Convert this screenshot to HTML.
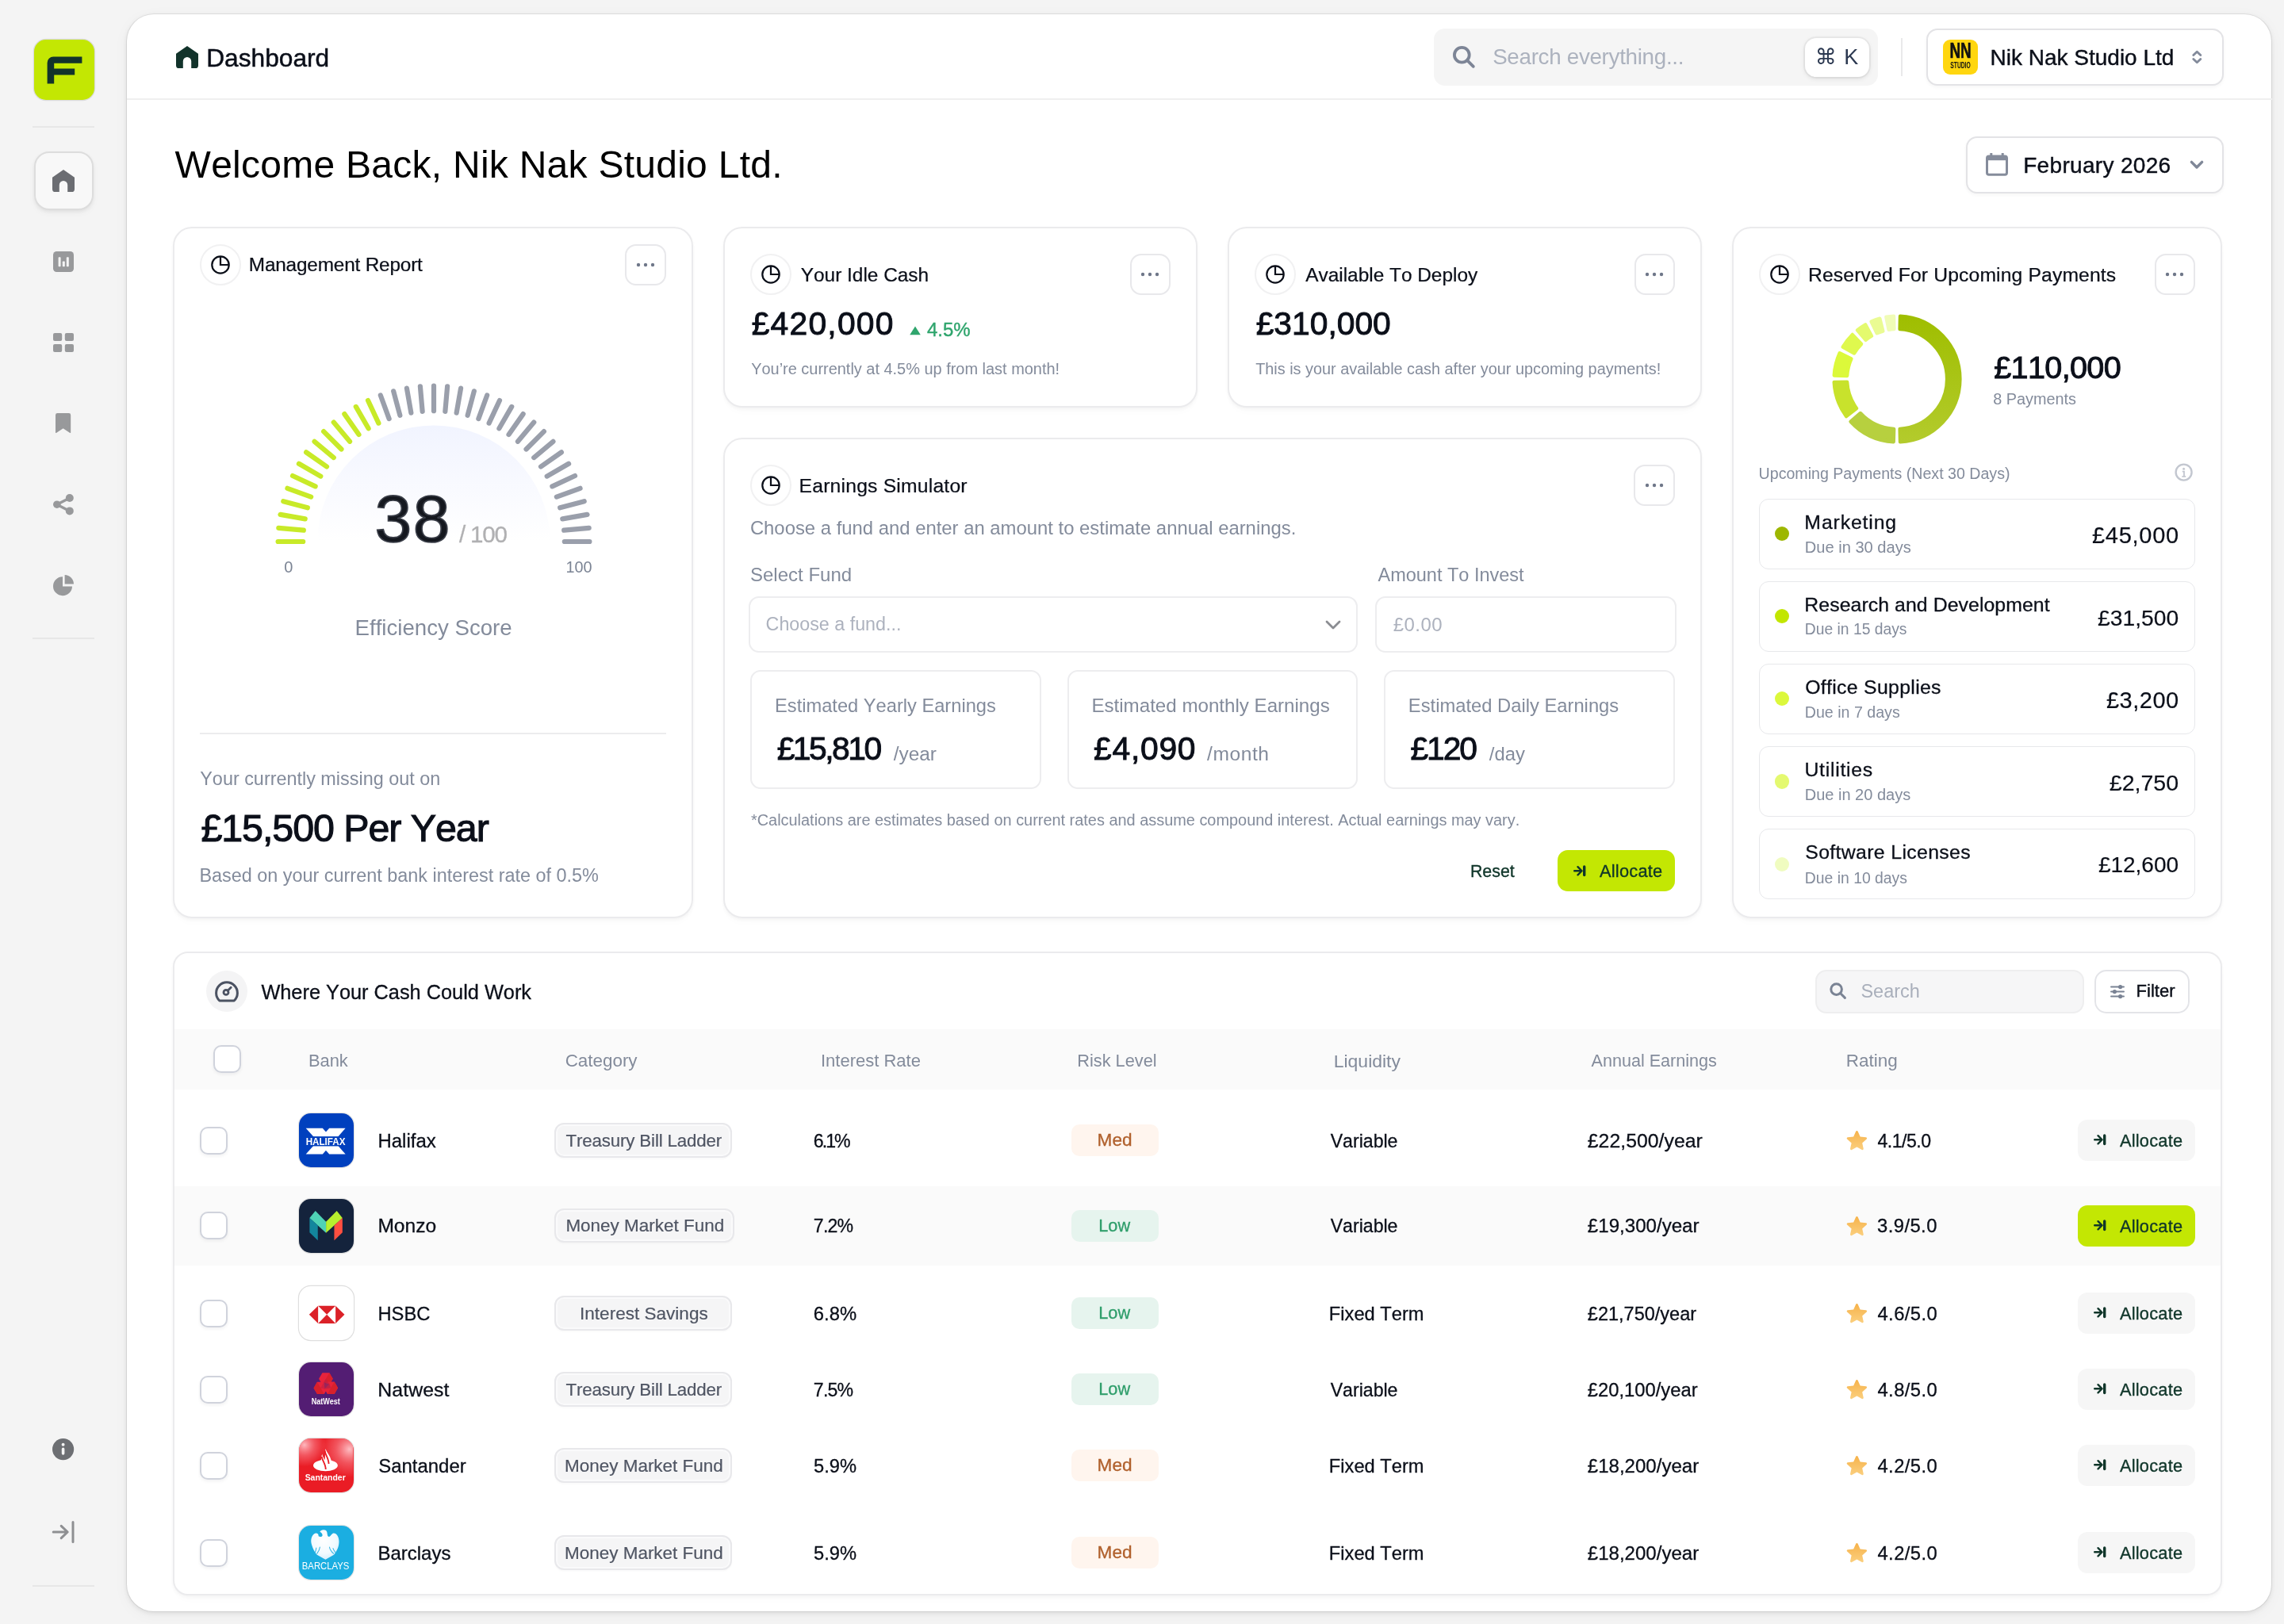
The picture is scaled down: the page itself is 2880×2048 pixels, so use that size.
<!DOCTYPE html>
<html lang="en"><head><meta charset="utf-8"><title>Dashboard</title>
<style>
html,body{margin:0;padding:0}
body{width:2880px;height:2048px;overflow:hidden;background:#f4f4f4;font-family:"Liberation Sans",sans-serif}
#p{position:absolute;left:0;top:0;width:1440px;height:1024px;zoom:2;will-change:transform;background:#f4f4f4;overflow:hidden}
@media (max-width:1600px){body{width:1440px;height:1024px}#p{zoom:1}}
.t{position:absolute;white-space:nowrap;margin:0;font-kerning:none}
svg{display:block;overflow:visible}
.card{background:#fff;border:1px solid #ebebed;border-radius:12px;box-shadow:0 1px 2px rgba(16,24,40,.035),0 4px 6px -2px rgba(16,24,40,.02)}
.ib{background:#fff;border:1px solid #ededef;border-radius:6.5px}
</style></head>
<body><div id="p">
<div style="position:absolute;left:21.25px;top:25.1px;width:38px;height:38px;box-sizing:border-box;background:#c3e703;border-radius:7.5px;box-shadow:0 0 0 .6px rgba(0,0,0,.10);"></div>
<svg style="position:absolute;left:20.75px;top:24.75px" width="39" height="39" viewBox="0 0 39 39"><path d="M8.8 27.8V14.6a3.8 3.8 0 0 1 3.8-3.8h18.1v4.1H13.1v3.3h13v4H13.1v5.6z" fill="#12332b"/></svg>
<div style="position:absolute;left:20.5px;top:79.5px;width:39px;height:1px;box-sizing:border-box;background:#e7e7e7;"></div>
<div style="position:absolute;left:20.5px;top:402.2px;width:39px;height:1px;box-sizing:border-box;background:#e7e7e7;"></div>
<div style="position:absolute;left:20.5px;top:999.5px;width:39px;height:1px;box-sizing:border-box;background:#e7e7e7;"></div>
<div style="position:absolute;left:21.5px;top:95.25px;width:37.25px;height:37.25px;box-sizing:border-box;background:#f8f8f8;border:1px solid #dddddd;border-radius:9.5px;box-shadow:0 1px 2px rgba(0,0,0,.06),0 2px 5px rgba(0,0,0,.03);"></div>
<svg style="position:absolute;left:33px;top:107px;" width="14" height="14" viewBox="0 0 14 14"><path d="M7 0L0 4.9v7.3A1.8 1.8 0 0 0 1.8 14h2.6V9.6a2.6 2.6 0 0 1 5.2 0V14h2.6a1.8 1.8 0 0 0 1.8-1.8V4.9z" fill="#6b6d72"/></svg>
<svg style="position:absolute;left:33.5px;top:158.4px;" width="13" height="13" viewBox="0 0 13 13"><rect width="13" height="13" rx="2.2" fill="#98999b"/><rect x="3.3" y="3.6" width="1.5" height="6" rx=".4" fill="#f4f4f4"/><rect x="5.9" y="6.2" width="1.5" height="3.4" rx=".4" fill="#f4f4f4"/><rect x="8.4" y="3.6" width="1.5" height="6" rx=".4" fill="#f4f4f4"/></svg>
<svg style="position:absolute;left:33.5px;top:209.9px;" width="13" height="12" viewBox="0 0 13 12"><g fill="#98999b"><rect width="5.6" height="5" rx="1"/><rect x="7.4" width="5.6" height="5" rx="1"/><rect y="7" width="5.6" height="5" rx="1"/><rect x="7.4" y="7" width="5.6" height="5" rx="1"/></g></svg>
<svg style="position:absolute;left:35.2px;top:260.5px;" width="9.6" height="12.6" viewBox="0 0 9.6 12.6"><path d="M0 1.2A1.2 1.2 0 0 1 1.2 0h7.2a1.2 1.2 0 0 1 1.2 1.2v10.9a.4.4 0 0 1-.63.33L4.8 9.6.63 12.43A.4.4 0 0 1 0 12.1z" fill="#98999b"/></svg>
<svg style="position:absolute;left:33.5px;top:311.5px;" width="13" height="13.2" viewBox="0 0 13 13.2"><g fill="#98999b"><circle cx="2.4" cy="6.6" r="2.4"/><circle cx="10.4" cy="2.5" r="2.5"/><circle cx="10.4" cy="10.7" r="2.5"/></g><path d="M10.4 2.5L2.4 6.6l8 4.1" fill="none" stroke="#98999b" stroke-width="1.7"/></svg>
<svg style="position:absolute;left:33.5px;top:362.3px;" width="13" height="13.2" viewBox="0 0 13 13.2"><path d="M6 1.1A6 6 0 1 0 12 7.2H6z" fill="#98999b"/><path d="M7.3 0a5.8 5.8 0 0 1 5.7 5.8H7.3z" fill="#98999b"/></svg>
<svg style="position:absolute;left:33.2px;top:907.2px;" width="13.6" height="13.6" viewBox="0 0 13.6 13.6"><circle cx="6.8" cy="6.8" r="6.8" fill="#6d6f73"/><circle cx="6.8" cy="3.9" r="1" fill="#f4f4f4"/><rect x="5.9" y="5.8" width="1.8" height="4.6" rx=".9" fill="#f4f4f4"/></svg>
<svg style="position:absolute;left:33px;top:959px;" width="14" height="14" viewBox="0 0 14 14"><path d="M.6 7h8.8M5.6 3.2L9.6 7l-4 3.8M13 .8v12.4" fill="none" stroke="#8e8f92" stroke-width="1.5" stroke-linecap="round" stroke-linejoin="round"/></svg>
<div style="position:absolute;left:80.15px;top:8.9px;width:1351.85px;height:1006.9px;box-sizing:border-box;background:#fff;border-radius:17px;box-shadow:0 0 0 .5px rgba(0,0,0,.07),0 1px 3px rgba(0,0,0,.09),0 2px 10px rgba(0,0,0,.04);"></div>
<div style="position:absolute;left:80px;top:62px;width:1352.25px;height:1px;box-sizing:border-box;background:#efefef;"></div>
<svg style="position:absolute;left:111px;top:28.9px;" width="14" height="14" viewBox="0 0 14 14"><path d="M7 0L0 4.9v7.3A1.8 1.8 0 0 0 1.8 14h2.6V9.6a2.6 2.6 0 0 1 5.2 0V14h2.6a1.8 1.8 0 0 0 1.8-1.8V4.9z" fill="#12332b"/></svg>
<div class="t" style="font-size:15.85px;line-height:22px;top:25.25px;color:#0b0f19;-webkit-text-stroke:0.25px #0b0f19;left:130.1px;">Dashboard</div>
<div style="position:absolute;left:904.1px;top:18.1px;width:279.9px;height:35.85px;box-sizing:border-box;background:#f5f5f5;border-radius:7px;"></div>
<svg style="position:absolute;left:916px;top:29px;" width="14" height="14" viewBox="0 0 14 14"><circle cx="5.65" cy="5.65" r="4.7" fill="none" stroke="#7d8596" stroke-width="1.9"/><path d="M9.3 9.3l3.600 3.600" stroke="#7d8596" stroke-width="1.9" stroke-linecap="round"/></svg>
<div class="t" style="font-size:13.87px;line-height:19px;top:26.65px;color:#acb2be;letter-spacing:-0.14px;left:941.07px;">Search everything...</div>
<div style="position:absolute;left:1137.75px;top:23.75px;width:40.5px;height:24.5px;box-sizing:border-box;background:#fff;border-radius:7px;box-shadow:0 0 0 1px rgba(0,0,0,.04),0 1px 3px rgba(0,0,0,.10);"></div>
<div class="t" style="left:1137.75px;top:23.75px;width:40.5px;height:24.5px;line-height:24.5px;text-align:center;font-size:13.5px;color:#2b3850;font-family:'Liberation Sans','DejaVu Sans',sans-serif;word-spacing:1px">&#8984; K</div>
<div style="position:absolute;left:1198.5px;top:24px;width:1px;height:24px;box-sizing:border-box;background:#e9e9ea;"></div>
<div style="position:absolute;left:1214.3px;top:18.15px;width:187.55px;height:35.7px;box-sizing:border-box;background:#fff;border:1px solid #e3e3e6;border-radius:7px;box-shadow:0 1px 2px rgba(0,0,0,.04);"></div>
<div style="position:absolute;left:1225px;top:24.9px;width:22px;height:22px;box-sizing:border-box;background:#ffd60f;border-radius:4.5px;"></div>
<div class="t" style="left:1225px;top:26px;width:22px;text-align:center;font-size:13.5px;line-height:12px;font-weight:700;color:#111;transform:scaleX(.7);letter-spacing:-.2px;-webkit-text-stroke:.3px #111">NN</div>
<div class="t" style="left:1225px;top:37.6px;width:22px;text-align:center;font-size:5.8px;line-height:7px;font-weight:700;color:#111;transform:scaleX(.58)">STUDIO</div>
<div class="t" style="font-size:14px;line-height:20px;top:26.5px;color:#0b0f19;-webkit-text-stroke:0.2px #0b0f19;left:1254.75px;">Nik Nak Studio Ltd</div>
<svg style="position:absolute;left:1381.85px;top:31.55px;" width="6.3" height="9" viewBox="0 0 7 10"><path d="M1 3.6L3.5 1.2 6 3.6M1 6.4l2.5 2.4L6 6.4" fill="none" stroke="#838b9b" stroke-width="1.6" stroke-linecap="round" stroke-linejoin="round"/></svg>
<div class="t" style="font-size:24px;line-height:34px;top:87.15px;color:#000;letter-spacing:0.13px;left:110.29px;">Welcome Back, Nik Nak Studio Ltd.</div>
<div style="position:absolute;left:1239.4px;top:86.1px;width:162.45px;height:35.75px;box-sizing:border-box;background:#fff;border:1px solid #e3e3e6;border-radius:7px;box-shadow:0 1px 2px rgba(0,0,0,.04);"></div>
<svg style="position:absolute;left:1251.9px;top:96.45px;" width="14" height="14.4" viewBox="0 0 14 14.4"><path d="M3.4 0v2M10.6 0v2" stroke="#858c9b" stroke-width="1.5"/><rect x=".75" y="2" width="12.5" height="11.6" rx="1.2" fill="none" stroke="#858c9b" stroke-width="1.5"/><rect x=".75" y="2" width="12.5" height="2.6" fill="#858c9b"/></svg>
<div class="t" style="font-size:14px;line-height:20px;top:94.3px;color:#0b0f19;letter-spacing:0.16px;-webkit-text-stroke:0.2px #0b0f19;left:1275.6px;">February 2026</div>
<svg style="position:absolute;left:1380.4px;top:101.15px;" width="9" height="6" viewBox="0 0 9 6"><path d="M1.2 1.2L4.5 4.5 7.8 1.2" fill="none" stroke="#7f8797" stroke-width="1.7" stroke-linecap="round" stroke-linejoin="round"/></svg>
<div class="card" style="position:absolute;left:109px;top:143px;width:328px;height:436px;box-sizing:border-box;"></div>
<div style="position:absolute;left:126px;top:154px;width:26px;height:26px;box-sizing:border-box;background:#fff;border:1px solid #f1f1f2;border-radius:50%;"></div>
<svg style="position:absolute;left:133px;top:161px;" width="12" height="12" viewBox="0 0 12 12"><circle cx="6" cy="6" r="5.35" fill="none" stroke="#0b0f19" stroke-width="1.12"/><path d="M6 .7V6h5.3" fill="none" stroke="#0b0f19" stroke-width="1.12"/></svg>
<div class="t" style="font-size:12.16px;line-height:17px;top:158.65px;color:#0b0f19;letter-spacing:-0.08px;-webkit-text-stroke:0.12px #0b0f19;left:156.9px;">Management Report</div>
<div style="position:absolute;left:394px;top:154px;width:26px;height:26px;box-sizing:border-box;background:#fff;border:1px solid #e8e8eb;border-radius:7px;"></div>
<svg style="position:absolute;left:401px;top:165.5px;" width="12" height="3" viewBox="0 0 12 3"><g fill="#6f7789"><circle cx="1.500" cy="1.500" r="1.100"/><circle cx="6" cy="1.500" r="1.100"/><circle cx="10.500" cy="1.500" r="1.100"/></g></svg>
<svg style="position:absolute;left:163.3px;top:231.25px" width="220" height="120" viewBox="-110 -110 220 120"><g stroke-width="3.1" stroke-linecap="round"><defs><linearGradient id="gsemi" x1="0" y1="0" x2="0" y2="1"><stop offset="0" stop-color="#f1f4ff"/><stop offset=".55" stop-color="#f9faff"/><stop offset="1" stop-color="#ffffff"/></linearGradient></defs><path d="M-73.3 0A73.3 73.3 0 0 1 73.3 0z" fill="url(#gsemi)"/><line x1="-82.40" y1="-0.00" x2="-98.20" y2="-0.00" stroke="#c8ea28"/><line x1="-82.09" y1="-7.18" x2="-97.83" y2="-8.56" stroke="#c8ea28"/><line x1="-81.15" y1="-14.31" x2="-96.71" y2="-17.05" stroke="#c8ea28"/><line x1="-79.59" y1="-21.33" x2="-94.85" y2="-25.42" stroke="#c8ea28"/><line x1="-77.43" y1="-28.18" x2="-92.28" y2="-33.59" stroke="#c8ea28"/><line x1="-74.68" y1="-34.82" x2="-89.00" y2="-41.50" stroke="#c8ea28"/><line x1="-71.36" y1="-41.20" x2="-85.04" y2="-49.10" stroke="#c8ea28"/><line x1="-67.50" y1="-47.26" x2="-80.44" y2="-56.33" stroke="#c8ea28"/><line x1="-63.12" y1="-52.97" x2="-75.23" y2="-63.12" stroke="#c8ea28"/><line x1="-58.27" y1="-58.27" x2="-69.44" y2="-69.44" stroke="#c8ea28"/><line x1="-52.97" y1="-63.12" x2="-63.12" y2="-75.23" stroke="#c8ea28"/><line x1="-47.26" y1="-67.50" x2="-56.33" y2="-80.44" stroke="#c8ea28"/><line x1="-41.20" y1="-71.36" x2="-49.10" y2="-85.04" stroke="#c8ea28"/><line x1="-34.82" y1="-74.68" x2="-41.50" y2="-89.00" stroke="#c8ea28"/><line x1="-28.18" y1="-77.43" x2="-33.59" y2="-92.28" stroke="#9a9fab"/><line x1="-21.33" y1="-79.59" x2="-25.42" y2="-94.85" stroke="#9a9fab"/><line x1="-14.31" y1="-81.15" x2="-17.05" y2="-96.71" stroke="#9a9fab"/><line x1="-7.18" y1="-82.09" x2="-8.56" y2="-97.83" stroke="#9a9fab"/><line x1="0.00" y1="-82.40" x2="0.00" y2="-98.20" stroke="#9a9fab"/><line x1="7.18" y1="-82.09" x2="8.56" y2="-97.83" stroke="#9a9fab"/><line x1="14.31" y1="-81.15" x2="17.05" y2="-96.71" stroke="#9a9fab"/><line x1="21.33" y1="-79.59" x2="25.42" y2="-94.85" stroke="#9a9fab"/><line x1="28.18" y1="-77.43" x2="33.59" y2="-92.28" stroke="#9a9fab"/><line x1="34.82" y1="-74.68" x2="41.50" y2="-89.00" stroke="#9a9fab"/><line x1="41.20" y1="-71.36" x2="49.10" y2="-85.04" stroke="#9a9fab"/><line x1="47.26" y1="-67.50" x2="56.33" y2="-80.44" stroke="#9a9fab"/><line x1="52.97" y1="-63.12" x2="63.12" y2="-75.23" stroke="#9a9fab"/><line x1="58.27" y1="-58.27" x2="69.44" y2="-69.44" stroke="#9a9fab"/><line x1="63.12" y1="-52.97" x2="75.23" y2="-63.12" stroke="#9a9fab"/><line x1="67.50" y1="-47.26" x2="80.44" y2="-56.33" stroke="#9a9fab"/><line x1="71.36" y1="-41.20" x2="85.04" y2="-49.10" stroke="#9a9fab"/><line x1="74.68" y1="-34.82" x2="89.00" y2="-41.50" stroke="#9a9fab"/><line x1="77.43" y1="-28.18" x2="92.28" y2="-33.59" stroke="#9a9fab"/><line x1="79.59" y1="-21.33" x2="94.85" y2="-25.42" stroke="#9a9fab"/><line x1="81.15" y1="-14.31" x2="96.71" y2="-17.05" stroke="#9a9fab"/><line x1="82.09" y1="-7.18" x2="97.83" y2="-8.56" stroke="#9a9fab"/><line x1="82.40" y1="-0.00" x2="98.20" y2="-0.00" stroke="#9a9fab"/></g></svg>
<div class="t" style="font-size:42px;line-height:59px;top:297.65px;color:#15181f;letter-spacing:0.76px;-webkit-text-stroke:0.85px #15181f;left:236.25px;-webkit-text-stroke-color:#3a3e48;">38</div>
<div class="t" style="font-size:14.8px;line-height:21px;top:326.3px;color:#b0b0b2;letter-spacing:-0.61px;-webkit-text-stroke:0.15px #b0b0b2;left:289.5px;">/ 100</div>
<div class="t" style="font-size:10px;line-height:14px;top:350.25px;color:#7b8494;left:-118.05px;width:600px;text-align:center;">0</div>
<div class="t" style="font-size:9.91px;line-height:14px;top:350.25px;color:#7b8494;right:1066.71px;">100</div>
<div class="t" style="font-size:13.82px;line-height:19px;top:386.65px;color:#838b9b;left:-26.7px;width:600px;text-align:center;">Efficiency Score</div>
<div style="position:absolute;left:126px;top:462px;width:294px;height:1px;box-sizing:border-box;background:#ececee;"></div>
<div class="t" style="font-size:11.7px;line-height:16px;top:483px;color:#838b9b;left:126.14px;">Your currently missing out on</div>
<div class="t" style="font-size:24.2px;line-height:34px;top:504.75px;color:#0b0f19;letter-spacing:-0.53px;-webkit-text-stroke:0.55px #0b0f19;left:126.71px;">£15,500 Per Year</div>
<div class="t" style="font-size:11.71px;line-height:16px;top:544px;color:#838b9b;left:125.69px;">Based on your current bank interest rate of 0.5%</div>
<div class="card" style="position:absolute;left:456px;top:143px;width:299px;height:114px;box-sizing:border-box;"></div>
<div style="position:absolute;left:472.85px;top:160px;width:26px;height:26px;box-sizing:border-box;background:#fff;border:1px solid #f1f1f2;border-radius:50%;"></div>
<svg style="position:absolute;left:479.85px;top:167px;" width="12" height="12" viewBox="0 0 12 12"><circle cx="6" cy="6" r="5.35" fill="none" stroke="#0b0f19" stroke-width="1.12"/><path d="M6 .7V6h5.3" fill="none" stroke="#0b0f19" stroke-width="1.12"/></svg>
<div class="t" style="font-size:12.2px;line-height:17px;top:164.75px;color:#0b0f19;-webkit-text-stroke:0.12px #0b0f19;left:504.88px;">Your Idle Cash</div>
<div style="position:absolute;left:712.25px;top:160px;width:25.5px;height:25.75px;box-sizing:border-box;background:#fff;border:1px solid #e8e8eb;border-radius:7px;"></div>
<svg style="position:absolute;left:719px;top:171.38px;" width="12" height="3" viewBox="0 0 12 3"><g fill="#6f7789"><circle cx="1.500" cy="1.500" r="1.100"/><circle cx="6" cy="1.500" r="1.100"/><circle cx="10.500" cy="1.500" r="1.100"/></g></svg>
<div class="t" style="font-size:20.4px;line-height:29px;top:189.65px;color:#0b0f19;letter-spacing:0.62px;-webkit-text-stroke:0.48px #0b0f19;left:473.82px;">£420,000</div>
<svg style="position:absolute;left:573.5px;top:205.4px;" width="7" height="5.6" viewBox="0 0 7 5.6"><path d="M3.500 .2L6.900 5.600H.1z" fill="#2fa56d"/></svg>
<div class="t" style="font-size:11.98px;line-height:17px;top:199.25px;color:#2fa56d;-webkit-text-stroke:0.2px #2fa56d;left:584.53px;">4.5%</div>
<div class="t" style="font-size:9.97px;line-height:14px;top:225.65px;color:#838b9b;left:473.58px;">You’re currently at 4.5% up from last month!</div>
<div class="card" style="position:absolute;left:774px;top:143px;width:299px;height:114px;box-sizing:border-box;"></div>
<div style="position:absolute;left:790.85px;top:160px;width:26px;height:26px;box-sizing:border-box;background:#fff;border:1px solid #f1f1f2;border-radius:50%;"></div>
<svg style="position:absolute;left:797.85px;top:167px;" width="12" height="12" viewBox="0 0 12 12"><circle cx="6" cy="6" r="5.35" fill="none" stroke="#0b0f19" stroke-width="1.12"/><path d="M6 .7V6h5.3" fill="none" stroke="#0b0f19" stroke-width="1.12"/></svg>
<div class="t" style="font-size:12.2px;line-height:17px;top:164.75px;color:#0b0f19;-webkit-text-stroke:0.12px #0b0f19;left:823.13px;">Available To Deploy</div>
<div style="position:absolute;left:1030.25px;top:160px;width:25.5px;height:25.75px;box-sizing:border-box;background:#fff;border:1px solid #e8e8eb;border-radius:7px;"></div>
<svg style="position:absolute;left:1037px;top:171.38px;" width="12" height="3" viewBox="0 0 12 3"><g fill="#6f7789"><circle cx="1.500" cy="1.500" r="1.100"/><circle cx="6" cy="1.500" r="1.100"/><circle cx="10.500" cy="1.500" r="1.100"/></g></svg>
<div class="t" style="font-size:20.4px;line-height:29px;top:189.65px;color:#0b0f19;letter-spacing:0px;-webkit-text-stroke:0.48px #0b0f19;left:791.82px;">£310,000</div>
<div class="t" style="font-size:9.94px;line-height:14px;top:225.65px;color:#838b9b;left:791.58px;">This is your available cash after your upcoming payments!</div>
<div class="card" style="position:absolute;left:456px;top:276px;width:617px;height:303px;box-sizing:border-box;"></div>
<div style="position:absolute;left:472.8px;top:292.9px;width:26px;height:26px;box-sizing:border-box;background:#fff;border:1px solid #f1f1f2;border-radius:50%;"></div>
<svg style="position:absolute;left:479.8px;top:299.9px;" width="12" height="12" viewBox="0 0 12 12"><circle cx="6" cy="6" r="5.35" fill="none" stroke="#0b0f19" stroke-width="1.12"/><path d="M6 .7V6h5.3" fill="none" stroke="#0b0f19" stroke-width="1.12"/></svg>
<div class="t" style="font-size:12.35px;line-height:17px;top:297.75px;color:#0b0f19;letter-spacing:0.1px;-webkit-text-stroke:0.12px #0b0f19;left:503.79px;">Earnings Simulator</div>
<div style="position:absolute;left:1030px;top:293.1px;width:25.9px;height:25.8px;box-sizing:border-box;background:#fff;border:1px solid #e8e8eb;border-radius:7px;"></div>
<svg style="position:absolute;left:1036.95px;top:304.5px;" width="12" height="3" viewBox="0 0 12 3"><g fill="#6f7789"><circle cx="1.500" cy="1.500" r="1.100"/><circle cx="6" cy="1.500" r="1.100"/><circle cx="10.500" cy="1.500" r="1.100"/></g></svg>
<div class="t" style="font-size:11.93px;line-height:17px;top:324.65px;color:#838b9b;left:472.94px;">Choose a fund and enter an amount to estimate annual earnings.</div>
<div class="t" style="font-size:12px;line-height:17px;top:354.15px;color:#838b9b;left:473.01px;">Select Fund</div>
<div class="t" style="font-size:11.75px;line-height:16px;top:354.65px;color:#838b9b;left:868.73px;">Amount To Invest</div>
<div class="ib" style="position:absolute;left:472.15px;top:375.9px;width:383.85px;height:35.7px;box-sizing:border-box;"></div>
<div class="t" style="font-size:11.64px;line-height:16px;top:385.65px;color:#adb2be;left:482.81px;">Choose a fund...</div>
<svg style="position:absolute;left:835.25px;top:390.75px;" width="10" height="6" viewBox="0 0 10 6"><path d="M1 1l4 4 4-4" fill="none" stroke="#8b8d92" stroke-width="1.4" stroke-linecap="round" stroke-linejoin="round"/></svg>
<div class="ib" style="position:absolute;left:867.15px;top:375.9px;width:189.85px;height:35.7px;box-sizing:border-box;"></div>
<div class="t" style="font-size:12px;line-height:17px;top:385.25px;color:#adb2be;letter-spacing:0.24px;left:878.36px;">£0.00</div>
<div class="ib" style="position:absolute;left:473.1px;top:422.5px;width:183.45px;height:75.1px;box-sizing:border-box;"></div>
<div class="t" style="font-size:11.83px;line-height:17px;top:436.6px;color:#838b9b;left:488.53px;">Estimated Yearly Earnings</div>
<div class="t" style="font-size:20.4px;line-height:29px;top:457.4px;color:#0b0f19;letter-spacing:-1.25px;-webkit-text-stroke:0.48px #0b0f19;left:489.82px;">£15,810</div>
<div class="t" style="font-size:12.19px;line-height:17px;top:466.75px;color:#838b9b;left:563.4px;">/year</div>
<div class="ib" style="position:absolute;left:672.8px;top:422.5px;width:183.45px;height:75.1px;box-sizing:border-box;"></div>
<div class="t" style="font-size:12.07px;line-height:17px;top:436.6px;color:#838b9b;left:688.21px;">Estimated monthly Earnings</div>
<div class="t" style="font-size:20.4px;line-height:29px;top:457.4px;color:#0b0f19;letter-spacing:0.37px;-webkit-text-stroke:0.48px #0b0f19;left:689.52px;">£4,090</div>
<div class="t" style="font-size:12.3px;line-height:17px;top:466.75px;color:#838b9b;letter-spacing:0.27px;left:761.05px;">/month</div>
<div class="ib" style="position:absolute;left:872.5px;top:422.5px;width:183.45px;height:75.1px;box-sizing:border-box;"></div>
<div class="t" style="font-size:11.88px;line-height:17px;top:436.6px;color:#838b9b;left:887.93px;">Estimated Daily Earnings</div>
<div class="t" style="font-size:20.4px;line-height:29px;top:457.4px;color:#0b0f19;letter-spacing:-1.04px;-webkit-text-stroke:0.48px #0b0f19;left:889.22px;">£120</div>
<div class="t" style="font-size:11.92px;line-height:17px;top:466.75px;color:#838b9b;left:938.9px;">/day</div>
<div class="t" style="font-size:9.96px;line-height:14px;top:509.75px;color:#838b9b;left:473.49px;">*Calculations are estimates based on current rates and assume compound interest. Actual earnings may vary.</div>
<div class="t" style="font-size:10.69px;line-height:15px;top:541.75px;color:#10362a;-webkit-text-stroke:0.17px #10362a;left:926.97px;">Reset</div>
<div style="position:absolute;left:982px;top:536px;width:74px;height:26px;box-sizing:border-box;background:#c3e703;border-radius:6.5px;"></div>
<svg style="position:absolute;left:992px;top:545.4px;" width="8" height="7.2" viewBox="0 0 8 7.2"><g fill="none" stroke="#10362a" stroke-linecap="round" stroke-linejoin="round"><path d="M.6 3.630h4.600M2.750 1.100l2.550 2.530-2.550 2.530" stroke-width="1.2"/><path d="M6.850 .950v5.300" stroke-width="1.700"/></g></svg>
<div class="t" style="font-size:10.9px;line-height:15px;top:541.95px;color:#10362a;letter-spacing:0.11px;-webkit-text-stroke:0.17px #10362a;left:1008.53px;">Allocate</div>
<div class="card" style="position:absolute;left:1092px;top:143px;width:309px;height:436px;box-sizing:border-box;"></div>
<div style="position:absolute;left:1108.85px;top:160px;width:26px;height:26px;box-sizing:border-box;background:#fff;border:1px solid #f1f1f2;border-radius:50%;"></div>
<svg style="position:absolute;left:1115.85px;top:167px;" width="12" height="12" viewBox="0 0 12 12"><circle cx="6" cy="6" r="5.35" fill="none" stroke="#0b0f19" stroke-width="1.12"/><path d="M6 .7V6h5.3" fill="none" stroke="#0b0f19" stroke-width="1.12"/></svg>
<div class="t" style="font-size:12.35px;line-height:17px;top:164.75px;color:#0b0f19;letter-spacing:0.07px;-webkit-text-stroke:0.12px #0b0f19;left:1139.99px;">Reserved For Upcoming Payments</div>
<div style="position:absolute;left:1358.25px;top:160px;width:25.7px;height:25.75px;box-sizing:border-box;background:#fff;border:1px solid #e8e8eb;border-radius:7px;"></div>
<svg style="position:absolute;left:1365.1px;top:171.38px;" width="12" height="3" viewBox="0 0 12 3"><g fill="#6f7789"><circle cx="1.500" cy="1.500" r="1.100"/><circle cx="6" cy="1.500" r="1.100"/><circle cx="10.500" cy="1.500" r="1.100"/></g></svg>
<svg style="position:absolute;left:1151px;top:194px" width="90" height="90" viewBox="-45 -45 90 90"><g stroke-width="2.2" stroke-linejoin="round"><defs><linearGradient id="dg1" x1="0" y1="0" x2="0" y2="1"><stop offset="0" stop-color="#9fbe00"/><stop offset="1" stop-color="#b3cb2c"/></linearGradient></defs><path d="M2.00 -39.65A39.70 39.70 0 0 1 2.00 39.65L1.81 31.45A31.50 31.50 0 0 0 1.81 -31.45z" fill="url(#dg1)" stroke="url(#dg1)"/><path d="M-2.14 39.64A39.70 39.70 0 0 1 -29.23 26.87L-23.04 21.48A31.50 31.50 0 0 0 -1.92 31.44z" fill="#b7d03f" stroke="#b7d03f"/><path d="M-31.95 23.57A39.70 39.70 0 0 1 -39.65 2.00L-31.45 1.81A31.50 31.50 0 0 0 -25.48 18.51z" fill="#c8e22c" stroke="#c8e22c"/><path d="M-39.63 -2.28A39.70 39.70 0 0 1 -36.15 -16.41L-28.78 -12.81A31.50 31.50 0 0 0 -31.43 -2.03z" fill="#dcf93a" stroke="#dcf93a"/><path d="M-34.18 -20.20A39.70 39.70 0 0 1 -28.11 -28.03L-22.47 -22.08A31.50 31.50 0 0 0 -27.00 -16.22z" fill="#dff94e" stroke="#dff94e"/><path d="M-25.04 -30.80A39.70 39.70 0 0 1 -19.90 -34.35L-15.99 -27.14A31.50 31.50 0 0 0 -19.69 -24.58z" fill="#e4fa6e" stroke="#e4fa6e"/><path d="M-16.22 -36.24A39.70 39.70 0 0 1 -10.87 -38.18L-8.84 -30.23A31.50 31.50 0 0 0 -12.66 -28.84z" fill="#eafb93" stroke="#eafb93"/><path d="M-6.83 -39.11A39.70 39.70 0 0 1 -2.00 -39.65L-1.81 -31.45A31.50 31.50 0 0 0 -5.20 -31.07z" fill="#f0fcb6" stroke="#f0fcb6"/></g></svg>
<div class="t" style="font-size:19.8px;line-height:28px;top:217.5px;color:#0b0f19;letter-spacing:-0.33px;-webkit-text-stroke:0.48px #0b0f19;left:1257.14px;">£110,000</div>
<div class="t" style="font-size:9.92px;line-height:14px;top:244.4px;color:#838b9b;left:1256.67px;">8 Payments</div>
<div class="t" style="font-size:9.8px;line-height:14px;top:291.25px;color:#838b9b;left:1108.79px;">Upcoming Payments (Next 30 Days)</div>
<svg style="position:absolute;left:1371.1px;top:292.05px;" width="11.6" height="11.6" viewBox="0 0 11.6 11.6"><circle cx="5.8" cy="5.8" r="5" fill="none" stroke="#c3c7d0" stroke-width="1.2"/><circle cx="5.8" cy="3.6" r=".75" fill="#c3c7d0"/><path d="M4.9 5.3h1.1v3M4.7 8.4h2.4" fill="none" stroke="#c3c7d0" stroke-width=".9"/></svg>
<div style="position:absolute;left:1109.05px;top:314.5px;width:274.95px;height:44.45px;box-sizing:border-box;background:#fff;border:.5px solid #e7e8eb;border-radius:6px;"></div>
<div style="position:absolute;left:1118.95px;top:332.15px;width:9.05px;height:9.05px;box-sizing:border-box;background:#9db700;border-radius:50%;"></div>
<div class="t" style="font-size:12.4px;line-height:17px;top:320.9px;color:#0b0f19;letter-spacing:0.43px;-webkit-text-stroke:0.15px #0b0f19;left:1137.68px;">Marketing</div>
<div class="t" style="font-size:10.05px;line-height:14px;top:338.15px;color:#838b9b;left:1137.88px;">Due in 30 days</div>
<div class="t" style="font-size:14.5px;line-height:20px;top:327.5px;color:#0b0f19;letter-spacing:0.36px;-webkit-text-stroke:0.1px #0b0f19;right:66.07px;">£45,000</div>
<div style="position:absolute;left:1109.05px;top:366.52px;width:274.95px;height:44.45px;box-sizing:border-box;background:#fff;border:.5px solid #e7e8eb;border-radius:6px;"></div>
<div style="position:absolute;left:1118.95px;top:384.17px;width:9.05px;height:9.05px;box-sizing:border-box;background:#c2e600;border-radius:50%;"></div>
<div class="t" style="font-size:12.4px;line-height:17px;top:372.92px;color:#0b0f19;letter-spacing:0.04px;-webkit-text-stroke:0.15px #0b0f19;left:1137.68px;">Research and Development</div>
<div class="t" style="font-size:9.65px;line-height:14px;top:390.17px;color:#838b9b;left:1137.91px;">Due in 15 days</div>
<div class="t" style="font-size:14.11px;line-height:20px;top:379.52px;color:#0b0f19;-webkit-text-stroke:0.1px #0b0f19;right:66.45px;">£31,500</div>
<div style="position:absolute;left:1109.05px;top:418.55px;width:274.95px;height:44.45px;box-sizing:border-box;background:#fff;border:.5px solid #e7e8eb;border-radius:6px;"></div>
<div style="position:absolute;left:1118.95px;top:436.2px;width:9.05px;height:9.05px;box-sizing:border-box;background:#dcf83c;border-radius:50%;"></div>
<div class="t" style="font-size:12.4px;line-height:17px;top:424.95px;color:#0b0f19;letter-spacing:0.16px;-webkit-text-stroke:0.15px #0b0f19;left:1138.11px;">Office Supplies</div>
<div class="t" style="font-size:9.81px;line-height:14px;top:442.2px;color:#838b9b;left:1137.9px;">Due in 7 days</div>
<div class="t" style="font-size:14.5px;line-height:20px;top:431.55px;color:#0b0f19;letter-spacing:0.24px;-webkit-text-stroke:0.1px #0b0f19;right:66.2px;">£3,200</div>
<div style="position:absolute;left:1109.05px;top:470.57px;width:274.95px;height:44.45px;box-sizing:border-box;background:#fff;border:.5px solid #e7e8eb;border-radius:6px;"></div>
<div style="position:absolute;left:1118.95px;top:488.22px;width:9.05px;height:9.05px;box-sizing:border-box;background:#e4f970;border-radius:50%;"></div>
<div class="t" style="font-size:12.4px;line-height:17px;top:476.97px;color:#0b0f19;letter-spacing:0.36px;-webkit-text-stroke:0.15px #0b0f19;left:1137.74px;">Utilities</div>
<div class="t" style="font-size:10px;line-height:14px;top:494.22px;color:#838b9b;left:1137.88px;">Due in 20 days</div>
<div class="t" style="font-size:14.28px;line-height:20px;top:483.57px;color:#0b0f19;-webkit-text-stroke:0.1px #0b0f19;right:66.45px;">£2,750</div>
<div style="position:absolute;left:1109.05px;top:522.6px;width:274.95px;height:44.45px;box-sizing:border-box;background:#fff;border:.5px solid #e7e8eb;border-radius:6px;"></div>
<div style="position:absolute;left:1118.95px;top:540.25px;width:9.05px;height:9.05px;box-sizing:border-box;background:#f0fcc0;border-radius:50%;"></div>
<div class="t" style="font-size:12.4px;line-height:17px;top:529px;color:#0b0f19;letter-spacing:0.18px;-webkit-text-stroke:0.15px #0b0f19;left:1138.14px;">Software Licenses</div>
<div class="t" style="font-size:9.69px;line-height:14px;top:546.25px;color:#838b9b;left:1137.91px;">Due in 10 days</div>
<div class="t" style="font-size:14px;line-height:20px;top:535.6px;color:#0b0f19;-webkit-text-stroke:0.1px #0b0f19;right:66.46px;">£12,600</div>
<div class="card" style="position:absolute;left:109.15px;top:600.1px;width:1291.85px;height:405.9px;box-sizing:border-box;overflow:hidden;border-radius:9.5px;"><div style="position:absolute;left:0;right:0;top:47.900px;height:37.850px;background:#fafafa"></div><div style="position:absolute;left:0;right:0;top:146.750px;height:50px;background:#fafafa"></div></div>
<div style="position:absolute;left:130px;top:612px;width:26px;height:26px;box-sizing:border-box;background:#f4f4f5;border-radius:50%;"></div>
<svg style="position:absolute;left:135.5px;top:618px;" width="15" height="13.8" viewBox="0 0 15 13.8"><path d="M3.200 13H2.900A6.700 6.700 0 1 1 12.100 13H3.200z" fill="none" stroke="#4b5262" stroke-width="1.500" stroke-linejoin="round"/><circle cx="7" cy="7.700" r="1.500" fill="none" stroke="#4b5262" stroke-width="1.400"/><path d="M8.100 6.600l2-2" stroke="#4b5262" stroke-width="1.400" stroke-linecap="round"/></svg>
<div class="t" style="font-size:12.67px;line-height:18px;top:616.5px;color:#0b0f19;-webkit-text-stroke:0.15px #0b0f19;left:164.69px;">Where Your Cash Could Work</div>
<div style="position:absolute;left:1144.25px;top:611.25px;width:169.5px;height:27.5px;box-sizing:border-box;background:#f6f6f7;border:1px solid #eeeeef;border-radius:7px;"></div>
<svg style="position:absolute;left:1153.7px;top:619.6px;" width="10.4" height="10.4" viewBox="0 0 10.4 10.4"><circle cx="4.300" cy="4.300" r="3.400" fill="none" stroke="#7a8394" stroke-width="1.500"/><path d="M6.900 6.900l2.800 2.800" stroke="#7a8394" stroke-width="1.500" stroke-linecap="round"/></svg>
<div class="t" style="font-size:11.74px;line-height:16px;top:617px;color:#a9afbb;left:1173.22px;">Search</div>
<div style="position:absolute;left:1320.35px;top:611.25px;width:60.3px;height:27.5px;box-sizing:border-box;background:#fff;border:1px solid #e3e4e8;border-radius:7.500px;"></div>
<svg style="position:absolute;left:1330.6px;top:620.9px;" width="9" height="8.6" viewBox="0 0 9 8.6"><g stroke="#7a8394" stroke-width="1" stroke-linecap="round"><path d="M.5 1.300h8M.5 4.300h8M.5 7.300h8"/></g><g fill="#7a8394"><circle cx="6.300" cy="1.300" r="1.300"/><circle cx="2.700" cy="4.300" r="1.300"/><circle cx="6.300" cy="7.300" r="1.300"/></g></svg>
<div class="t" style="font-size:11.02px;line-height:15px;top:617.65px;color:#0b0f19;-webkit-text-stroke:0.2px #0b0f19;left:1346.8px;">Filter</div>
<div style="position:absolute;left:134.25px;top:659.05px;width:17.5px;height:17.5px;box-sizing:border-box;background:#fff;border:1px solid #d0d3dc;border-radius:5px;box-shadow:0 1px 2px rgba(16,24,40,.06);"></div>
<div class="t" style="font-size:10.94px;line-height:15px;top:661.3px;color:#838b9b;left:194.45px;">Bank</div>
<div class="t" style="font-size:11.21px;line-height:16px;top:660.8px;color:#838b9b;left:356.33px;">Category</div>
<div class="t" style="font-size:11px;line-height:15px;top:661.3px;color:#838b9b;left:517.48px;">Interest Rate</div>
<div class="t" style="font-size:10.87px;line-height:15px;top:661.3px;color:#838b9b;left:679.16px;">Risk Level</div>
<div class="t" style="font-size:11.49px;line-height:16px;top:660.8px;color:#838b9b;left:840.86px;">Liquidity</div>
<div class="t" style="font-size:10.79px;line-height:15px;top:661.3px;color:#838b9b;left:1003.28px;">Annual Earnings</div>
<div class="t" style="font-size:11.24px;line-height:16px;top:660.8px;color:#838b9b;left:1163.88px;">Rating</div>
<div style="position:absolute;left:126.15px;top:710.25px;width:17.5px;height:17.5px;box-sizing:border-box;background:#fff;border:1px solid #d0d3dc;border-radius:5px;box-shadow:0 1px 2px rgba(16,24,40,.06);"></div>
<div style="position:absolute;left:188.6px;top:701.9px;width:34.2px;height:34.2px;border-radius:7.5px;background:#0040be;box-shadow:0 0 0 .6px rgba(0,0,0,.10);overflow:hidden"><svg width="34.2" height="34.2" viewBox="0 0 70 70" style="position:absolute;left:0;top:0"><g fill="#fff"><path d="M8.9 19.3H30.5L60 52.6H39.100z"/><path d="M60 19.3H39.100L8.9 52.6H30.5z"/></g><rect x="6" y="29.800" width="58" height="12.600" fill="#0040be"/><text x="34.4" y="40.7" text-anchor="middle" font-family="Liberation Sans, sans-serif" font-weight="700" font-size="12.4" fill="#fff" textLength="51" lengthAdjust="spacingAndGlyphs">HALIFAX</text></svg></div>
<div class="t" style="font-size:11.99px;line-height:17px;top:710.75px;color:#0b0f19;-webkit-text-stroke:0.15px #0b0f19;left:238.22px;">Halifax</div>
<div style="position:absolute;left:349.7px;top:708.2px;width:112px;height:21.6px;box-sizing:border-box;background:#f5f5f6;border:1px solid #e8e8eb;border-radius:6px;box-shadow:inset 0 0 0 1px rgba(255,255,255,.5),0 1px 1px rgba(0,0,0,.02);"></div>
<div class="t" style="font-size:11.16px;line-height:16px;top:711.25px;color:#4f5563;letter-spacing:-0.08px;-webkit-text-stroke:0.1px #4f5563;left:105.95px;width:600px;text-align:center;text-indent:-0.08px;">Treasury Bill Ladder</div>
<div class="t" style="font-size:11.54px;line-height:16px;top:711.25px;color:#0b0f19;letter-spacing:-0.97px;-webkit-text-stroke:0.15px #0b0f19;left:512.91px;">6.1%</div>
<div style="position:absolute;left:675.5px;top:709px;width:55px;height:20px;box-sizing:border-box;background:#fff5ee;border-radius:5px;"></div>
<div class="t" style="font-size:11.3px;line-height:16px;top:711.15px;color:#b0602c;letter-spacing:0.06px;-webkit-text-stroke:0.15px #b0602c;left:402.8px;width:600px;text-align:center;text-indent:0.06px;">Med</div>
<div class="t" style="font-size:11.56px;line-height:16px;top:711.25px;color:#0b0f19;-webkit-text-stroke:0.15px #0b0f19;left:838.85px;">Variable</div>
<div class="t" style="font-size:12.4px;line-height:17px;top:710.75px;color:#0b0f19;letter-spacing:0.01px;-webkit-text-stroke:0.15px #0b0f19;left:1000.9px;">£22,500/year</div>
<svg style="position:absolute;left:1163.8px;top:712.35px;" width="13.4" height="12.8" viewBox="0 0 24 23"><defs><linearGradient id="sg" x1="0" y1="0" x2="0" y2="1"><stop offset="0" stop-color="#f6b24a"/><stop offset="1" stop-color="#fbcf7e"/></linearGradient></defs><path d="M12 .8c.5 0 .9.3 1.1.8l2.7 6 6.5.7c1.1.1 1.500 1.400.700 2.100l-4.900 4.400 1.400 6.400c.200 1-.900 1.800-1.800 1.300L12 19.300l-5.700 3.200c-.900.500-2-.300-1.800-1.300l1.400-6.400L1 10.400C.2 9.700.600 8.400 1.700 8.300l6.500-.7 2.700-6c.2-.5.600-.8 1.100-.8z" fill="url(#sg)"/></svg>
<div class="t" style="font-size:11.54px;line-height:16px;top:711.25px;color:#0b0f19;letter-spacing:-0.25px;-webkit-text-stroke:0.15px #0b0f19;left:1183.74px;">4.1/5.0</div>
<div style="position:absolute;left:1310px;top:706px;width:74px;height:25.95px;box-sizing:border-box;background:#f6f6f6;border-radius:6px;"></div>
<svg style="position:absolute;left:1320.1px;top:715.15px;" width="8" height="7.2" viewBox="0 0 8 7.2"><g fill="none" stroke="#10362a" stroke-linecap="round" stroke-linejoin="round"><path d="M.6 3.630h4.600M2.750 1.100l2.550 2.530-2.550 2.530" stroke-width="1.2"/><path d="M6.850 .950v5.300" stroke-width="1.700"/></g></svg>
<div class="t" style="font-size:10.9px;line-height:15px;top:711.9px;color:#10362a;letter-spacing:0.11px;-webkit-text-stroke:0.17px #10362a;left:1336.48px;">Allocate</div>
<div style="position:absolute;left:126.15px;top:764.15px;width:17.5px;height:17.5px;box-sizing:border-box;background:#fff;border:1px solid #d0d3dc;border-radius:5px;box-shadow:0 1px 2px rgba(16,24,40,.06);"></div>
<div style="position:absolute;left:188.6px;top:755.8px;width:34.2px;height:34.2px;border-radius:7.5px;background:#14233c;box-shadow:0 0 0 .6px rgba(0,0,0,.10);overflow:hidden"><svg width="34.2" height="34.2" viewBox="0 0 70 70" style="position:absolute;left:0;top:0"><path d="M13.700 24.500L21.200 15.400L34.900 29.300V43.800z" fill="#4fd2b6"/><path d="M13.700 24.500L24.300 34.100V53.400L13.700 43.200z" fill="#13869d"/><path d="M56.100 24.500L48.800 15.400L34.900 29.300V43.800z" fill="#b7ef2e"/><path d="M56.100 24.500L45.500 34.100V53.400L56.100 43.200z" fill="#ff4f40"/></svg></div>
<div class="t" style="font-size:12.3px;line-height:17px;top:764.65px;color:#0b0f19;-webkit-text-stroke:0.15px #0b0f19;left:238.19px;">Monzo</div>
<div style="position:absolute;left:349.7px;top:762.1px;width:113.4px;height:21.6px;box-sizing:border-box;background:#f5f5f6;border:1px solid #e8e8eb;border-radius:6px;box-shadow:inset 0 0 0 1px rgba(255,255,255,.5),0 1px 1px rgba(0,0,0,.02);"></div>
<div class="t" style="font-size:11.24px;line-height:16px;top:765.15px;color:#4f5563;-webkit-text-stroke:0.1px #4f5563;left:106.65px;width:600px;text-align:center;">Money Market Fund</div>
<div class="t" style="font-size:11.54px;line-height:16px;top:765.15px;color:#0b0f19;letter-spacing:-0.38px;-webkit-text-stroke:0.15px #0b0f19;left:512.91px;">7.2%</div>
<div style="position:absolute;left:675.5px;top:762.9px;width:55px;height:20px;box-sizing:border-box;background:#e6f4ee;border-radius:5px;"></div>
<div class="t" style="font-size:10.86px;line-height:15px;top:765.55px;color:#2f9e6b;letter-spacing:0px;-webkit-text-stroke:0.15px #2f9e6b;left:402.6px;width:600px;text-align:center;text-indent:0px;">Low</div>
<div class="t" style="font-size:11.56px;line-height:16px;top:765.15px;color:#0b0f19;-webkit-text-stroke:0.15px #0b0f19;left:838.85px;">Variable</div>
<div class="t" style="font-size:12.06px;line-height:17px;top:764.65px;color:#0b0f19;-webkit-text-stroke:0.15px #0b0f19;left:1000.91px;">£19,300/year</div>
<svg style="position:absolute;left:1163.8px;top:766.25px;" width="13.4" height="12.8" viewBox="0 0 24 23"><defs><linearGradient id="sg" x1="0" y1="0" x2="0" y2="1"><stop offset="0" stop-color="#f6b24a"/><stop offset="1" stop-color="#fbcf7e"/></linearGradient></defs><path d="M12 .8c.5 0 .9.3 1.1.8l2.7 6 6.5.7c1.1.1 1.500 1.400.700 2.100l-4.900 4.400 1.400 6.400c.200 1-.900 1.800-1.800 1.300L12 19.300l-5.700 3.200c-.900.500-2-.300-1.800-1.300l1.400-6.400L1 10.400C.2 9.700.600 8.400 1.700 8.300l6.500-.7 2.700-6c.2-.5.600-.8 1.100-.8z" fill="url(#sg)"/></svg>
<div class="t" style="font-size:11.9px;line-height:17px;top:764.65px;color:#0b0f19;letter-spacing:0.21px;-webkit-text-stroke:0.15px #0b0f19;left:1183.55px;">3.9/5.0</div>
<div style="position:absolute;left:1310px;top:759.9px;width:74px;height:25.95px;box-sizing:border-box;background:#c3e703;border-radius:6px;"></div>
<svg style="position:absolute;left:1320.1px;top:769.05px;" width="8" height="7.2" viewBox="0 0 8 7.2"><g fill="none" stroke="#10362a" stroke-linecap="round" stroke-linejoin="round"><path d="M.6 3.630h4.600M2.750 1.100l2.550 2.530-2.550 2.530" stroke-width="1.2"/><path d="M6.850 .950v5.300" stroke-width="1.700"/></g></svg>
<div class="t" style="font-size:10.9px;line-height:15px;top:765.8px;color:#10362a;letter-spacing:0.11px;-webkit-text-stroke:0.17px #10362a;left:1336.48px;">Allocate</div>
<div style="position:absolute;left:126.15px;top:819.25px;width:17.5px;height:17.5px;box-sizing:border-box;background:#fff;border:1px solid #d0d3dc;border-radius:5px;box-shadow:0 1px 2px rgba(16,24,40,.06);"></div>
<div style="position:absolute;left:188.6px;top:810.9px;width:34.2px;height:34.2px;border-radius:7.5px;background:#fff;box-shadow:0 0 0 .6px rgba(0,0,0,.13);overflow:hidden"><svg width="34.2" height="34.2" viewBox="0 0 70 70" style="position:absolute;left:0;top:0"><g fill="#db2128"><path d="M13.100 36.650L24.700 25.300v22.700z"/><path d="M58.800 36.650L47.200 25.300v22.700z"/><path d="M24.700 25.300h22.500L35.950 36.650z"/><path d="M24.700 48h22.500L35.950 36.650z"/></g></svg></div>
<div class="t" style="font-size:11.87px;line-height:17px;top:819.75px;color:#0b0f19;-webkit-text-stroke:0.15px #0b0f19;left:238.23px;">HSBC</div>
<div style="position:absolute;left:349.7px;top:817.2px;width:112px;height:21.6px;box-sizing:border-box;background:#f5f5f6;border:1px solid #e8e8eb;border-radius:6px;box-shadow:inset 0 0 0 1px rgba(255,255,255,.5),0 1px 1px rgba(0,0,0,.02);"></div>
<div class="t" style="font-size:11.28px;line-height:16px;top:820.25px;color:#4f5563;-webkit-text-stroke:0.1px #4f5563;left:105.95px;width:600px;text-align:center;">Interest Savings</div>
<div class="t" style="font-size:11.9px;line-height:17px;top:819.75px;color:#0b0f19;-webkit-text-stroke:0.15px #0b0f19;left:512.9px;">6.8%</div>
<div style="position:absolute;left:675.5px;top:818px;width:55px;height:20px;box-sizing:border-box;background:#e6f4ee;border-radius:5px;"></div>
<div class="t" style="font-size:10.86px;line-height:15px;top:820.65px;color:#2f9e6b;letter-spacing:0px;-webkit-text-stroke:0.15px #2f9e6b;left:402.6px;width:600px;text-align:center;text-indent:0px;">Low</div>
<div class="t" style="font-size:11.83px;line-height:17px;top:819.75px;color:#0b0f19;-webkit-text-stroke:0.15px #0b0f19;left:837.93px;">Fixed Term</div>
<div class="t" style="font-size:11.76px;line-height:16px;top:820.25px;color:#0b0f19;-webkit-text-stroke:0.15px #0b0f19;left:1000.92px;">£21,750/year</div>
<svg style="position:absolute;left:1163.8px;top:821.35px;" width="13.4" height="12.8" viewBox="0 0 24 23"><defs><linearGradient id="sg" x1="0" y1="0" x2="0" y2="1"><stop offset="0" stop-color="#f6b24a"/><stop offset="1" stop-color="#fbcf7e"/></linearGradient></defs><path d="M12 .8c.5 0 .9.3 1.1.8l2.7 6 6.5.7c1.1.1 1.500 1.400.700 2.100l-4.900 4.400 1.400 6.400c.200 1-.900 1.800-1.800 1.300L12 19.300l-5.700 3.200c-.900.500-2-.300-1.800-1.300l1.400-6.400L1 10.400C.2 9.700.600 8.400 1.700 8.300l6.500-.7 2.700-6c.2-.5.600-.8 1.100-.8z" fill="url(#sg)"/></svg>
<div class="t" style="font-size:11.9px;line-height:17px;top:819.75px;color:#0b0f19;letter-spacing:0.21px;-webkit-text-stroke:0.15px #0b0f19;left:1183.73px;">4.6/5.0</div>
<div style="position:absolute;left:1310px;top:815px;width:74px;height:25.95px;box-sizing:border-box;background:#f6f6f6;border-radius:6px;"></div>
<svg style="position:absolute;left:1320.1px;top:824.15px;" width="8" height="7.2" viewBox="0 0 8 7.2"><g fill="none" stroke="#10362a" stroke-linecap="round" stroke-linejoin="round"><path d="M.6 3.630h4.600M2.750 1.100l2.550 2.530-2.550 2.530" stroke-width="1.2"/><path d="M6.850 .950v5.300" stroke-width="1.700"/></g></svg>
<div class="t" style="font-size:10.9px;line-height:15px;top:820.9px;color:#10362a;letter-spacing:0.11px;-webkit-text-stroke:0.17px #10362a;left:1336.48px;">Allocate</div>
<div style="position:absolute;left:126.15px;top:867.25px;width:17.5px;height:17.5px;box-sizing:border-box;background:#fff;border:1px solid #d0d3dc;border-radius:5px;box-shadow:0 1px 2px rgba(16,24,40,.06);"></div>
<div style="position:absolute;left:188.6px;top:858.9px;width:34.2px;height:34.2px;border-radius:7.5px;background:#531d73;box-shadow:0 0 0 .6px rgba(0,0,0,.10);overflow:hidden"><svg width="34.2" height="34.2" viewBox="0 0 70 70" style="position:absolute;left:0;top:0"><path d="M25.65 21.30L30.18 13.46L39.23 13.46L43.75 21.30L39.23 29.14L30.18 29.14z" fill="#e8233c"/><path d="M39.23 13.46L43.75 21.30L39.23 29.14L30.18 29.14z" fill="#d9202c"/><path d="M18.95 33.20L23.48 25.36L32.52 25.36L37.05 33.20L32.52 41.04L23.48 41.04z" fill="#e8233c"/><path d="M32.52 41.04L23.48 41.04L18.95 33.20L23.48 25.36z" fill="#d8202b"/><path d="M32.15 33.00L36.68 25.16L45.73 25.16L50.25 33.00L45.73 40.84L36.68 40.84z" fill="#e6233a"/><path d="M45.73 25.16L50.25 33.00L45.73 40.84L36.68 40.84z" fill="#d7212b"/><path d="M32.100 25.700L39.400 28.500L33.200 34.300z" fill="#8d2560" opacity=".85"/><path d="M34.700 21.300L39.400 28.500L32.100 25.700z" fill="#c22244" opacity=".8"/><path d="M28 33.200l4.100-7.500 1.100 8.600z" fill="#c22244" opacity=".7"/><path d="M41.200 33l-8 1.300 6.200-5.800z" fill="#b52349" opacity=".8"/><text x="34.6" y="54.2" text-anchor="middle" font-family="Liberation Sans, sans-serif" font-weight="700" font-size="10.4" fill="#fff" textLength="37" lengthAdjust="spacingAndGlyphs">NatWest</text></svg></div>
<div class="t" style="font-size:12.4px;line-height:17px;top:867.75px;color:#0b0f19;letter-spacing:0.04px;-webkit-text-stroke:0.15px #0b0f19;left:238.18px;">Natwest</div>
<div style="position:absolute;left:349.7px;top:865.2px;width:112px;height:21.6px;box-sizing:border-box;background:#f5f5f6;border:1px solid #e8e8eb;border-radius:6px;box-shadow:inset 0 0 0 1px rgba(255,255,255,.5),0 1px 1px rgba(0,0,0,.02);"></div>
<div class="t" style="font-size:11.16px;line-height:16px;top:868.25px;color:#4f5563;letter-spacing:-0.08px;-webkit-text-stroke:0.1px #4f5563;left:105.95px;width:600px;text-align:center;text-indent:-0.08px;">Treasury Bill Ladder</div>
<div class="t" style="font-size:11.54px;line-height:16px;top:868.25px;color:#0b0f19;letter-spacing:-0.38px;-webkit-text-stroke:0.15px #0b0f19;left:512.91px;">7.5%</div>
<div style="position:absolute;left:675.5px;top:866px;width:55px;height:20px;box-sizing:border-box;background:#e6f4ee;border-radius:5px;"></div>
<div class="t" style="font-size:10.86px;line-height:15px;top:868.65px;color:#2f9e6b;letter-spacing:0px;-webkit-text-stroke:0.15px #2f9e6b;left:402.6px;width:600px;text-align:center;text-indent:0px;">Low</div>
<div class="t" style="font-size:11.56px;line-height:16px;top:868.25px;color:#0b0f19;-webkit-text-stroke:0.15px #0b0f19;left:838.85px;">Variable</div>
<div class="t" style="font-size:11.89px;line-height:17px;top:867.75px;color:#0b0f19;-webkit-text-stroke:0.15px #0b0f19;left:1000.91px;">£20,100/year</div>
<svg style="position:absolute;left:1163.8px;top:869.35px;" width="13.4" height="12.8" viewBox="0 0 24 23"><defs><linearGradient id="sg" x1="0" y1="0" x2="0" y2="1"><stop offset="0" stop-color="#f6b24a"/><stop offset="1" stop-color="#fbcf7e"/></linearGradient></defs><path d="M12 .8c.5 0 .9.3 1.1.8l2.7 6 6.5.7c1.1.1 1.500 1.400.700 2.100l-4.900 4.400 1.400 6.400c.200 1-.900 1.800-1.800 1.300L12 19.300l-5.700 3.200c-.900.500-2-.300-1.800-1.300l1.400-6.400L1 10.400C.2 9.700.600 8.400 1.700 8.300l6.500-.7 2.700-6c.2-.5.600-.8 1.100-.8z" fill="url(#sg)"/></svg>
<div class="t" style="font-size:11.9px;line-height:17px;top:867.75px;color:#0b0f19;letter-spacing:0.21px;-webkit-text-stroke:0.15px #0b0f19;left:1183.73px;">4.8/5.0</div>
<div style="position:absolute;left:1310px;top:863px;width:74px;height:25.95px;box-sizing:border-box;background:#f6f6f6;border-radius:6px;"></div>
<svg style="position:absolute;left:1320.1px;top:872.15px;" width="8" height="7.2" viewBox="0 0 8 7.2"><g fill="none" stroke="#10362a" stroke-linecap="round" stroke-linejoin="round"><path d="M.6 3.630h4.600M2.750 1.100l2.550 2.530-2.550 2.530" stroke-width="1.2"/><path d="M6.850 .950v5.300" stroke-width="1.700"/></g></svg>
<div class="t" style="font-size:10.9px;line-height:15px;top:868.9px;color:#10362a;letter-spacing:0.11px;-webkit-text-stroke:0.17px #10362a;left:1336.48px;">Allocate</div>
<div style="position:absolute;left:126.15px;top:915.25px;width:17.5px;height:17.5px;box-sizing:border-box;background:#fff;border:1px solid #d0d3dc;border-radius:5px;box-shadow:0 1px 2px rgba(16,24,40,.06);"></div>
<div style="position:absolute;left:188.6px;top:906.9px;width:34.2px;height:34.2px;border-radius:7.5px;background:#ea1c25;box-shadow:0 0 0 .6px rgba(0,0,0,.10);overflow:hidden"><svg width="34.2" height="34.2" viewBox="0 0 70 70" style="position:absolute;left:0;top:0"><defs><radialGradient id="sg1" cx="0.1" cy="0.12" r=".4"><stop offset="0" stop-color="#ffc0c6" stop-opacity=".95"/><stop offset=".5" stop-color="#f9808a" stop-opacity=".55"/><stop offset="1" stop-color="#f9808a" stop-opacity="0"/></radialGradient><radialGradient id="sg2" cx="0.93" cy="0.2" r=".52"><stop offset="0" stop-color="#ffc6cb" stop-opacity=".95"/><stop offset=".5" stop-color="#f98a93" stop-opacity=".5"/><stop offset="1" stop-color="#f98a93" stop-opacity="0"/></radialGradient></defs><rect width="70" height="70" fill="url(#sg1)"/><rect width="70" height="70" fill="url(#sg2)"/><ellipse cx="34.200" cy="34.900" rx="15.800" ry="7.400" fill="#fff"/><path d="M34.200 13.300C35.800 18 40.200 22.500 41.400 27.600L41.400 36H33z" fill="#fff"/><path d="M29.900 20C30.500 24.500 34.500 28.500 36 33.500V38H28.600V27.600C28.600 25 29 22.500 29.900 20z" fill="#fff"/><path d="M33.400 15.900C33.700 20.800 38.400 25.500 38.400 32.800" stroke="#ea1c25" stroke-width="1.900" fill="none"/><path d="M29.300 23.400C29.800 28.100 34.500 32.800 34.500 39.800" stroke="#ea1c25" stroke-width="1.900" fill="none"/><text x="34" y="54.3" text-anchor="middle" font-family="Liberation Sans, sans-serif" font-weight="700" font-size="10.6" fill="#fff" textLength="52.3" lengthAdjust="spacingAndGlyphs">Santander</text></svg></div>
<div class="t" style="font-size:11.96px;line-height:17px;top:915.75px;color:#0b0f19;-webkit-text-stroke:0.15px #0b0f19;left:238.66px;">Santander</div>
<div style="position:absolute;left:349.7px;top:913.2px;width:112px;height:21.6px;box-sizing:border-box;background:#f5f5f6;border:1px solid #e8e8eb;border-radius:6px;box-shadow:inset 0 0 0 1px rgba(255,255,255,.5),0 1px 1px rgba(0,0,0,.02);"></div>
<div class="t" style="font-size:11.24px;line-height:16px;top:916.25px;color:#4f5563;-webkit-text-stroke:0.1px #4f5563;left:105.95px;width:600px;text-align:center;">Money Market Fund</div>
<div class="t" style="font-size:11.84px;line-height:17px;top:915.75px;color:#0b0f19;-webkit-text-stroke:0.15px #0b0f19;left:513.03px;">5.9%</div>
<div style="position:absolute;left:675.5px;top:914px;width:55px;height:20px;box-sizing:border-box;background:#fff5ee;border-radius:5px;"></div>
<div class="t" style="font-size:11.3px;line-height:16px;top:916.15px;color:#b0602c;letter-spacing:0.06px;-webkit-text-stroke:0.15px #b0602c;left:402.8px;width:600px;text-align:center;text-indent:0.06px;">Med</div>
<div class="t" style="font-size:11.83px;line-height:17px;top:915.75px;color:#0b0f19;-webkit-text-stroke:0.15px #0b0f19;left:837.93px;">Fixed Term</div>
<div class="t" style="font-size:12.03px;line-height:17px;top:915.75px;color:#0b0f19;-webkit-text-stroke:0.15px #0b0f19;left:1000.91px;">£18,200/year</div>
<svg style="position:absolute;left:1163.8px;top:917.35px;" width="13.4" height="12.8" viewBox="0 0 24 23"><defs><linearGradient id="sg" x1="0" y1="0" x2="0" y2="1"><stop offset="0" stop-color="#f6b24a"/><stop offset="1" stop-color="#fbcf7e"/></linearGradient></defs><path d="M12 .8c.5 0 .9.3 1.1.8l2.7 6 6.5.7c1.1.1 1.500 1.400.700 2.100l-4.900 4.400 1.400 6.400c.200 1-.900 1.800-1.800 1.300L12 19.300l-5.700 3.200c-.900.500-2-.300-1.800-1.300l1.400-6.400L1 10.400C.2 9.700.600 8.400 1.700 8.300l6.500-.7 2.700-6c.2-.5.600-.8 1.100-.8z" fill="url(#sg)"/></svg>
<div class="t" style="font-size:11.9px;line-height:17px;top:915.75px;color:#0b0f19;letter-spacing:0.21px;-webkit-text-stroke:0.15px #0b0f19;left:1183.73px;">4.2/5.0</div>
<div style="position:absolute;left:1310px;top:911px;width:74px;height:25.95px;box-sizing:border-box;background:#f6f6f6;border-radius:6px;"></div>
<svg style="position:absolute;left:1320.1px;top:920.15px;" width="8" height="7.2" viewBox="0 0 8 7.2"><g fill="none" stroke="#10362a" stroke-linecap="round" stroke-linejoin="round"><path d="M.6 3.630h4.600M2.750 1.100l2.550 2.530-2.550 2.530" stroke-width="1.2"/><path d="M6.850 .950v5.300" stroke-width="1.700"/></g></svg>
<div class="t" style="font-size:10.9px;line-height:15px;top:916.9px;color:#10362a;letter-spacing:0.11px;-webkit-text-stroke:0.17px #10362a;left:1336.48px;">Allocate</div>
<div style="position:absolute;left:126.15px;top:970.25px;width:17.5px;height:17.5px;box-sizing:border-box;background:#fff;border:1px solid #d0d3dc;border-radius:5px;box-shadow:0 1px 2px rgba(16,24,40,.06);"></div>
<div style="position:absolute;left:188.6px;top:961.9px;width:34.2px;height:34.2px;border-radius:7.5px;background:#1baee1;box-shadow:0 0 0 .6px rgba(0,0,0,.10);overflow:hidden"><svg width="34.2" height="34.2" viewBox="0 0 70 70" style="position:absolute;left:0;top:0"><defs><radialGradient id="bgl" cx=".45" cy=".35" r=".75"><stop offset="0" stop-color="#ffffff"/><stop offset=".6" stop-color="#f1faff"/><stop offset="1" stop-color="#c9e9f9"/></radialGradient></defs><path d="M34.200 43.800L23.300 37.600C20 34 17 28 15.800 22C15 16 17.500 11 21.500 9.800C24 9.500 25.500 11 25.200 13.600C27 14.800 29.500 14.500 30.200 13C30.600 11 29.500 9.300 27 8C27.500 6.500 29.500 5.600 31.500 5.500C34 5.400 36 6.500 36.300 9C36.500 11 36.800 12.600 37.300 13.600L38.600 14.300C41 14 42 10.500 44.500 9.800C48.500 9.500 51.500 14 51.700 20.500C51.700 27 49 33 45 37.600z" fill="url(#bgl)"/><path d="M22.300 28.800c-.3 2.500-1 4.500-1.600 6.200M27 27.700c-.5 3.500-2 6-3.700 8.300M39.400 27.700c.5 3.500 2.700 6 5.200 8.300M44 29.300c.5 2 1.700 3.700 3.100 5.200" stroke="#3bb8e6" stroke-width="1.100" fill="none" stroke-linecap="round"/><text x="34.35" y="56.5" text-anchor="middle" font-family="Liberation Sans, sans-serif" font-weight="400" font-size="12.2" fill="#fff" textLength="60.9" lengthAdjust="spacingAndGlyphs">BARCLAYS</text></svg></div>
<div class="t" style="font-size:12px;line-height:17px;top:970.75px;color:#0b0f19;-webkit-text-stroke:0.15px #0b0f19;left:238.22px;">Barclays</div>
<div style="position:absolute;left:349.7px;top:968.2px;width:112px;height:21.6px;box-sizing:border-box;background:#f5f5f6;border:1px solid #e8e8eb;border-radius:6px;box-shadow:inset 0 0 0 1px rgba(255,255,255,.5),0 1px 1px rgba(0,0,0,.02);"></div>
<div class="t" style="font-size:11.24px;line-height:16px;top:971.25px;color:#4f5563;-webkit-text-stroke:0.1px #4f5563;left:105.95px;width:600px;text-align:center;">Money Market Fund</div>
<div class="t" style="font-size:11.84px;line-height:17px;top:970.75px;color:#0b0f19;-webkit-text-stroke:0.15px #0b0f19;left:513.03px;">5.9%</div>
<div style="position:absolute;left:675.5px;top:969px;width:55px;height:20px;box-sizing:border-box;background:#fff5ee;border-radius:5px;"></div>
<div class="t" style="font-size:11.3px;line-height:16px;top:971.15px;color:#b0602c;letter-spacing:0.06px;-webkit-text-stroke:0.15px #b0602c;left:402.8px;width:600px;text-align:center;text-indent:0.06px;">Med</div>
<div class="t" style="font-size:11.83px;line-height:17px;top:970.75px;color:#0b0f19;-webkit-text-stroke:0.15px #0b0f19;left:837.93px;">Fixed Term</div>
<div class="t" style="font-size:12.03px;line-height:17px;top:970.75px;color:#0b0f19;-webkit-text-stroke:0.15px #0b0f19;left:1000.91px;">£18,200/year</div>
<svg style="position:absolute;left:1163.8px;top:972.35px;" width="13.4" height="12.8" viewBox="0 0 24 23"><defs><linearGradient id="sg" x1="0" y1="0" x2="0" y2="1"><stop offset="0" stop-color="#f6b24a"/><stop offset="1" stop-color="#fbcf7e"/></linearGradient></defs><path d="M12 .8c.5 0 .9.3 1.1.8l2.7 6 6.5.7c1.1.1 1.500 1.400.700 2.100l-4.900 4.400 1.400 6.400c.200 1-.900 1.800-1.800 1.300L12 19.300l-5.700 3.200c-.900.500-2-.300-1.800-1.300l1.400-6.400L1 10.400C.2 9.700.600 8.400 1.700 8.300l6.500-.7 2.700-6c.2-.5.600-.8 1.100-.8z" fill="url(#sg)"/></svg>
<div class="t" style="font-size:11.9px;line-height:17px;top:970.75px;color:#0b0f19;letter-spacing:0.21px;-webkit-text-stroke:0.15px #0b0f19;left:1183.73px;">4.2/5.0</div>
<div style="position:absolute;left:1310px;top:966px;width:74px;height:25.95px;box-sizing:border-box;background:#f6f6f6;border-radius:6px;"></div>
<svg style="position:absolute;left:1320.1px;top:975.15px;" width="8" height="7.2" viewBox="0 0 8 7.2"><g fill="none" stroke="#10362a" stroke-linecap="round" stroke-linejoin="round"><path d="M.6 3.630h4.600M2.750 1.100l2.550 2.530-2.550 2.530" stroke-width="1.2"/><path d="M6.850 .950v5.300" stroke-width="1.700"/></g></svg>
<div class="t" style="font-size:10.9px;line-height:15px;top:971.9px;color:#10362a;letter-spacing:0.11px;-webkit-text-stroke:0.17px #10362a;left:1336.48px;">Allocate</div>
</div></body></html>
